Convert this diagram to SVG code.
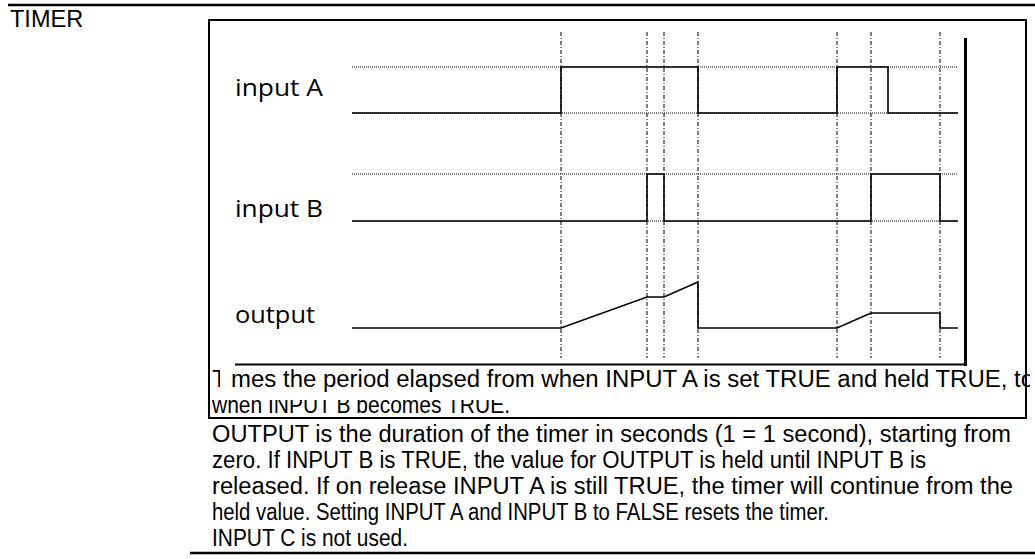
<svg xmlns="http://www.w3.org/2000/svg" width="1035" height="559" viewBox="0 0 1035 559">
<style>
.rule{stroke:#000;stroke-width:2.5;fill:none}
.box{stroke:#000;stroke-width:2;fill:none}
.txt{font-family:"Liberation Sans",Arial,sans-serif;font-size:23.5px;fill:#000}
.lbl{font-family:"Open Sans","Liberation Sans",sans-serif;font-size:24px;fill:#000}
.ref{stroke:#000;stroke-width:1;stroke-dasharray:1 1;fill:none}
.mark{stroke:#000;stroke-width:1;stroke-dasharray:4 2 1 2;fill:none}
.sig{stroke:#000;stroke-width:1.6;fill:none;stroke-linejoin:miter}
</style>
<defs>
<clipPath id="clipL1"><rect x="200" y="360" width="830" height="40"/></clipPath>
<clipPath id="clipL2"><rect x="200" y="400" width="830" height="20"/></clipPath>
</defs>
<rect width="1035" height="559" fill="#fff"/>
<line class="rule" x1="8" y1="5" x2="1035" y2="5"/>
<text class="txt" x="10" y="27" font-size="23">TIMER</text>
<rect id="frame" class="box" x="209" y="20" width="817" height="398"/>
<g id="chart">
<g id="labels">
<text id="lblA" class="lbl" x="235" y="96" textLength="88" lengthAdjust="spacingAndGlyphs">input A</text>
<text id="lblB" class="lbl" x="235" y="217" textLength="88" lengthAdjust="spacingAndGlyphs">input B</text>
<text id="lblOut" class="lbl" x="235" y="323" textLength="80" lengthAdjust="spacingAndGlyphs">output</text>
</g>
<g id="markers">
<line class="mark" x1="561" y1="32" x2="561" y2="358"/>
<line class="mark" x1="647" y1="32" x2="647" y2="358"/>
<line class="mark" x1="664" y1="32" x2="664" y2="358"/>
<line class="mark" x1="698" y1="32" x2="698" y2="358"/>
<line class="mark" x1="837" y1="32" x2="837" y2="358"/>
<line class="mark" x1="871" y1="32" x2="871" y2="358"/>
<line class="mark" x1="940" y1="32" x2="940" y2="358"/>
</g>
<g id="reflines">
<line class="ref" x1="352" y1="67" x2="958" y2="67"/>
<line class="ref" x1="352" y1="113" x2="958" y2="113"/>
<line class="ref" x1="352" y1="174" x2="958" y2="174"/>
<line class="ref" x1="352" y1="221" x2="958" y2="221"/>
</g>
<g id="signals">
<path id="sigA" class="sig" d="M352,113 H561 V67 H698 V113 H837 V67 H888 V113 H958"/>
<path id="sigB" class="sig" d="M352,221 H647 V174 H664 V221 H871 V174 H940 V221 H958"/>
<path id="sigOut" class="sig" d="M352,328 H561 L647,297 H664 L698,282 V328 H837 L871,313 H940 V328 H958"/>
</g>
<line x1="965.5" y1="38" x2="965.5" y2="366" stroke="#000" stroke-width="3"/>
<line x1="235" y1="364.5" x2="967" y2="364.5" stroke="#000" stroke-width="2"/>
</g>
<g id="description">
<text class="txt" x="212" y="387" textLength="822" lengthAdjust="spacingAndGlyphs" clip-path="url(#clipL1)">Times the period elapsed from when INPUT A is set TRUE and held TRUE, to</text>
<rect x="220" y="368" width="11" height="24" fill="#fff"/>
<text class="txt" x="212" y="413" textLength="298" lengthAdjust="spacingAndGlyphs" clip-path="url(#clipL2)">when INPUT B becomes TRUE.</text>
<text class="txt" x="212" y="442" textLength="799" lengthAdjust="spacingAndGlyphs">OUTPUT is the duration of the timer in seconds (1 = 1 second), starting from</text>
<text class="txt" x="212" y="468" textLength="714" lengthAdjust="spacingAndGlyphs">zero. If INPUT B is TRUE, the value for OUTPUT is held until INPUT B is</text>
<text class="txt" x="212" y="494" textLength="801" lengthAdjust="spacingAndGlyphs">released. If on release INPUT A is still TRUE, the timer will continue from the</text>
<text class="txt" x="212" y="520" textLength="617" lengthAdjust="spacingAndGlyphs">held value. Setting INPUT A and INPUT B to FALSE resets the timer.</text>
<text class="txt" x="212" y="546" textLength="196" lengthAdjust="spacingAndGlyphs">INPUT C is not used.</text>
</g>
<line class="rule" x1="190" y1="553" x2="1035" y2="553"/>
</svg>
